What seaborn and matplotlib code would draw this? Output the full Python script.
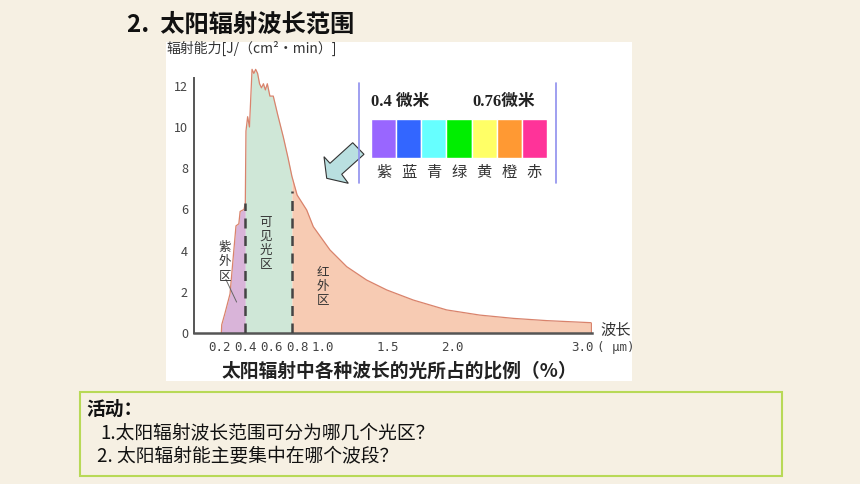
import numpy as np
import pandas as pd
import matplotlib
matplotlib.use("Agg")
import matplotlib.pyplot as plt
from matplotlib.patches import Rectangle, Polygon
from matplotlib.lines import Line2D
import seaborn as sns

# 数据：太阳辐射能随波长分布
wavelength = [0.215, 0.218, 0.243, 0.282, 0.307, 0.328, 0.35, 0.36, 0.39, 0.40,
              0.405, 0.418, 0.432, 0.452, 0.466, 0.48, 0.495, 0.51, 0.525, 0.54,
              0.555, 0.57, 0.59, 0.616, 0.65, 0.694, 0.73, 0.76, 0.80, 0.874,
              0.925, 1.054, 1.183, 1.337, 1.492, 1.697, 1.955, 2.21, 2.47, 2.73, 3.07]
energy = [0.0, 0.4, 0.96, 1.9, 3.7, 5.2, 5.3, 5.9, 6.0, 6.3,
          9.8, 10.5, 10.0, 12.8, 12.6, 12.8, 12.6, 12.1, 11.9, 12.1,
          11.8, 12.1, 11.5, 11.5, 10.6, 9.5, 8.5, 7.6, 6.7, 5.97,
          5.16, 4.03, 3.22, 2.57, 2.09, 1.60, 1.12, 0.87, 0.71, 0.60, 0.50]

uv_edge = 0.4
ir_edge = 0.76
uv_line_top = 6.3
ir_line_top = 6.9

y_ticks = [0, 2, 4, 6, 8, 10, 12]
x_ticks = [0.2, 0.4, 0.6, 0.8, 1.0, 1.5, 2.0, 3.0]
x_labels = ["0.2", "0.4", "0.6", "0.8", "1.0", "1.5", "2.0", "3.0"]

colour_names = ["紫", "蓝", "青", "绿", "黄", "橙", "赤"]
colour_values = ["#9966ff", "#3366ff", "#66ffff", "#00ee00", "#ffff66", "#ff9933", "#ff3399"]

questions = ["1.太阳辐射波长范围可分为哪几个光区？", "2. 太阳辐射能主要集中在哪个波段？"]

df = pd.DataFrame({"wavelength": wavelength, "energy": energy})

sns.set_style("white")
plt.rcParams["font.family"] = ["Noto Sans CJK SC", "DejaVu Sans"]

W, H = 860, 484
cream = "#f6f0e3"
fig = plt.figure(figsize=(8.6, 4.84), dpi=100, facecolor=cream)


def fx(x):
    return x / W


def fy(y):
    return 1 - y / H


# 白色图片底
fig.add_artist(Rectangle((fx(166), fy(381)), (632 - 166) / W, (381 - 42) / H,
                         transform=fig.transFigure, facecolor="white", edgecolor="none", zorder=0))

# 主图
ax = fig.add_axes([fx(193.5), fy(333), (592.4 - 193.5) / W, (333 - 65.2) / H])
ax.set_facecolor("none")
w = df["wavelength"].to_numpy()
e = df["energy"].to_numpy()
ax.fill_between(w, e, where=w <= uv_edge, color="#d9b4d9", lw=0, zorder=1)
ax.fill_between(w, e, where=(w >= uv_edge) & (w <= ir_edge), color="#cfe7d7", lw=0, zorder=1)
ax.fill_between(w, e, where=w >= ir_edge, color="#f7cbb3", lw=0, zorder=1)
sns.lineplot(data=df, x="wavelength", y="energy", ax=ax, color="#d9836c", lw=0.9,
             sort=False, estimator=None, zorder=2)
ax.plot([w[-1], w[-1]], [0, e[-1]], color="#d9836c", lw=0.9)
ax.vlines([uv_edge, ir_edge], 0, [uv_line_top, ir_line_top], colors="#444444",
          linestyles=(0, (4, 3)), lw=1.8, zorder=3)

ax.set_xlim(0, 3.08)
ax.set_ylim(0, 13)
ax.set_xticks(x_ticks)
ax.set_xticklabels(x_labels, family="DejaVu Sans Mono", fontsize=9, color="#444444")
ax.set_yticks(y_ticks)
ax.set_yticklabels([str(t) for t in y_ticks], fontsize=9, color="#444444")
ax.tick_params(axis="both", direction="in", length=8, width=1.1, color="#555555")
ax.tick_params(axis="x", pad=6)
ax.tick_params(axis="y", pad=4)
sns.despine(ax=ax)
ax.spines["left"].set_bounds(0, 12.4)
ax.spines["left"].set_color("#555555")
ax.spines["left"].set_linewidth(1.4)
ax.spines["bottom"].set_color("#555555")
ax.spines["bottom"].set_linewidth(1.8)
ax.set_xlabel("")
ax.set_ylabel("")

# 区域标注
ax.text(0.245, 3.45, "紫\n外\n区", fontsize=9, color="#333333", ha="center", va="center", linespacing=1.12)
ax.plot([0.25, 0.333], [2.6, 1.5], color="#666666", lw=0.7)
ax.text(0.56, 4.35, "可\n见\n光\n区", fontsize=9, color="#333333", ha="center", va="center", linespacing=1.12)
ax.text(1.0, 2.25, "红\n外\n区", fontsize=9, color="#333333", ha="center", va="center", linespacing=1.12)

# 轴标题等文字
fig.text(fx(166), fy(48), "辐射能力[J/（cm²·min）]", fontsize=10, color="#333333", va="center")
fig.text(fx(600), fy(330), "波长", fontsize=11, color="#333333", va="center")
fig.text(fx(597), fy(348), "( μm)", family="DejaVu Sans Mono", fontsize=9, color="#444444", va="center")
fig.text(fx(399), fy(371), "太阳辐射中各种波长的光所占的比例（%）", fontsize=13.5, weight="bold",
         color="#222222", ha="center", va="center")

# 光谱色带
for xl in (359, 556):
    fig.add_artist(Line2D([fx(xl), fx(xl)], [fy(83), fy(183)], transform=fig.transFigure,
                          color="#8f8fee", lw=1.2))
ax2 = fig.add_axes([fx(371), fy(158), 176 / W, 39 / H])
sns.barplot(x=colour_names, y=[1] * len(colour_names), hue=colour_names, palette=colour_values,
            width=1.0, saturation=1, legend=False, ax=ax2)
ax2.set_xlim(-0.5, len(colour_names) - 0.5)
ax2.set_ylim(0, 1)
ax2.set_yticks([])
ax2.tick_params(axis="x", length=0, pad=4, labelsize=11, labelcolor="#333333")
for s in ax2.spines.values():
    s.set_visible(False)
ax2.set_facecolor("white")
serif_cjk = ["Liberation Serif", "Noto Sans CJK SC"]
fig.text(fx(371), fy(102), "0.4 微米", family=serif_cjk, fontsize=12, weight="bold",
         color="#222222", va="center")
fig.text(fx(472), fy(102), "0.76微米", family=serif_cjk, fontsize=12, weight="bold",
         color="#222222", va="center")

# 箭头
arrow_px = [(324, 156.7), (330, 163.3), (352.7, 142.7), (364, 154.3),
            (341.7, 174.3), (348.3, 183.3), (326.7, 178.3)]
fig.add_artist(Polygon([(fx(x), fy(y)) for x, y in arrow_px], closed=True,
                       transform=fig.transFigure, facecolor="#b9dfe0", edgecolor="#333333", lw=0.8))

# 标题
fig.text(fx(127), fy(25), "2.  太阳辐射波长范围", fontsize=17.5, weight="bold", color="#111111", va="center")

# 活动框
fig.add_artist(Rectangle((fx(80), fy(476)), (782 - 80) / W, (476 - 392) / H,
                         transform=fig.transFigure, facecolor="none", edgecolor="#b8d957", lw=1.5))
fig.text(fx(86), fy(409), "活动：", fontsize=13.5, weight="bold", color="#111111", va="center")
fig.text(fx(100), fy(433), questions[0], fontsize=13.5, color="#111111", va="center")
fig.text(fx(97), fy(457), questions[1], fontsize=13.5, color="#111111", va="center")

fig.savefig("out.png", dpi=100, facecolor=cream)
